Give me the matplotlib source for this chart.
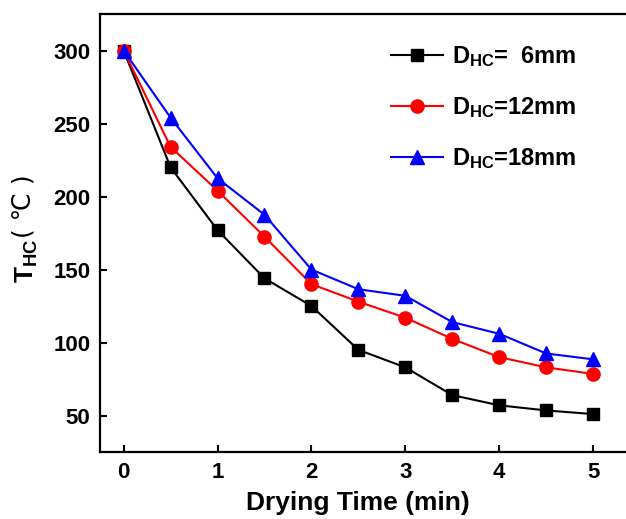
import numpy as np
import matplotlib.pyplot as plt

plt.rcParams['font.family'] = ['Liberation Sans', 'DejaVu Sans']
plt.rcParams['font.weight'] = 'bold'
plt.rcParams['mathtext.fontset'] = 'custom'
plt.rcParams['mathtext.rm'] = 'Liberation Sans:bold'
plt.rcParams['mathtext.bf'] = 'Liberation Sans:bold'
plt.rcParams['mathtext.it'] = 'Liberation Sans:bold'

# drying time (min)
t = [0, 0.5, 1, 1.5, 2, 2.5, 3, 3.5, 4, 4.5, 5]
# hot-core temperature for each diameter
T6 = [300, 220, 177, 144, 125, 95, 83, 64, 57, 53.5, 51]
T12 = [300, 234, 204, 172.5, 140, 128, 117, 102.5, 90, 83, 78.5]
T18 = [300, 254, 212.5, 187.5, 150, 136.5, 132, 114, 106, 92.5, 88.5]
labels = [r'D$\mathregular{_{HC}}$=  6mm', r'D$\mathregular{_{HC}}$=12mm', r'D$\mathregular{_{HC}}$=18mm']

fig = plt.figure(figsize=(6.26, 5.19), dpi=100)
ax = fig.add_axes([0.16, 0.129, 0.84, 0.844])

ax.plot(t, T6, color='black', marker='s', markersize=9, lw=1.5, label=labels[0])
ax.plot(t, T12, color='red', marker='o', markersize=9.5, lw=1.5, label=labels[1])
ax.plot(t, T18, color='blue', marker='^', markersize=10, lw=1.5, label=labels[2])

ax.set_xlim(-0.25, 5.35)
ax.set_ylim(25, 325)
ax.set_xticks([0, 1, 2, 3, 4, 5])
ax.set_yticks([50, 100, 150, 200, 250, 300])
ax.tick_params(direction='in', length=5, width=1.5, labelsize=16, pad=7)
for side in ['left', 'bottom', 'top']:
    ax.spines[side].set_linewidth(1.6)
ax.spines['right'].set_visible(False)

ax.set_xlabel('Drying Time (min)', fontsize=19, fontweight='bold', labelpad=6)
ax.xaxis.label.set_x(0.49)

# y label: bold T_HC, then the unit in a thin face
fig.text(14 / 626, (519 - 283) / 519, r'T$\mathregular{_{HC}}$', rotation=90,
         ha='left', va='bottom', fontsize=19, fontweight='bold')
fig.text(11 / 626, (519 - 238) / 519, '( ℃ )', rotation=90, ha='left', va='bottom',
         fontsize=18, fontweight='normal', family='DejaVu Sans')

ax.legend(loc='upper left', bbox_to_anchor=(0.512, 0.98), frameon=False,
          fontsize=17, handlelength=2.2, labelspacing=1.1, handletextpad=0.4)

fig.savefig('out.png', dpi=100)
